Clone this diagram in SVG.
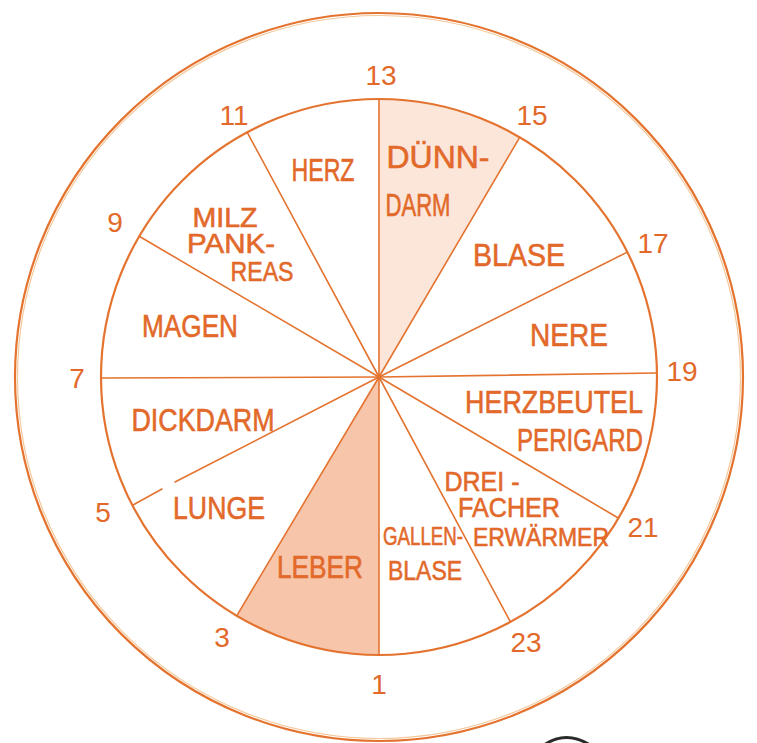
<svg xmlns="http://www.w3.org/2000/svg" width="757" height="743" viewBox="0 0 757 743">
<style>
.ln{fill:none;stroke:#e4732f;stroke-width:1.6;stroke-linecap:round}
.ring{fill:none;stroke:#e4732f;stroke-width:2.2}
.lbl{font-family:"Liberation Sans","DejaVu Sans",sans-serif;font-size:32px;fill:#e2692a;stroke:#e2692a;stroke-width:0.6;text-anchor:middle}
.sm{font-size:28px}
.xs{font-size:25px}
.num{font-family:"Liberation Sans","DejaVu Sans",sans-serif;font-size:28px;fill:#e2692a;text-anchor:middle}
</style>
<rect width="757" height="743" fill="#ffffff"/>
<g id="outer-ring">
<circle cx="379" cy="377" r="364" class="ring"/>
<circle cx="379" cy="377" r="361.5" fill="none" stroke="#f3c99c" stroke-width="1.2"/>
</g>
<g id="sector-duenndarm"><path d="M379,377 L379,99 A278,278 0 0 1 519.7,137.3 Z" fill="#fce6da"/></g>
<g id="sector-leber"><path d="M379,377 L379,655 A278,278 0 0 1 236.7,615.8 Z" fill="#f7c5a9"/></g>
<g id="inner-ring"><circle cx="379" cy="377" r="278" class="ring"/></g>
<g id="connectors">
<line class="ln" x1="379" y1="377" x2="379" y2="99"/>
<line class="ln" x1="379" y1="377" x2="519.7" y2="137.3"/>
<line class="ln" x1="379" y1="377" x2="627.3" y2="252.1"/>
<line class="ln" x1="379" y1="377" x2="657" y2="373"/>
<line class="ln" x1="379" y1="377" x2="618.6" y2="518.2"/>
<line class="ln" x1="379" y1="377" x2="510.4" y2="621.9"/>
<line class="ln" x1="379" y1="377" x2="379" y2="655"/>
<line class="ln" x1="379" y1="377" x2="236.7" y2="615.8"/>
<line class="ln" x1="379" y1="377" x2="175" y2="482"/>
<line class="ln" x1="162" y1="489" x2="133" y2="505"/>
<line class="ln" x1="379" y1="377" x2="101" y2="378"/>
<line class="ln" x1="379" y1="377" x2="139.2" y2="236.3"/>
<line class="ln" x1="379" y1="377" x2="247.2" y2="132.3"/>
</g>
<g id="numbers">
<text class="num" x="381" y="85">13</text>
<text class="num" x="532" y="125">15</text>
<text class="num" x="653" y="253">17</text>
<text class="num" x="682" y="381">19</text>
<text class="num" x="643" y="537">21</text>
<text class="num" x="526" y="652">23</text>
<text class="num" x="379" y="694">1</text>
<text class="num" x="222" y="647">3</text>
<text class="num" x="103" y="522">5</text>
<text class="num" x="77" y="388">7</text>
<text class="num" x="115" y="232">9</text>
<text class="num" x="234" y="125">11</text>
</g>
<g id="node-herz"><text class="lbl" x="323" y="181" textLength="63" lengthAdjust="spacingAndGlyphs">HERZ</text></g>
<g id="node-duenndarm">
<text class="lbl" x="438" y="168" textLength="103" lengthAdjust="spacingAndGlyphs">DÜNN-</text>
<text class="lbl" x="418" y="216" textLength="65" lengthAdjust="spacingAndGlyphs">DARM</text>
</g>
<g id="node-blase"><text class="lbl" x="519" y="266" textLength="92" lengthAdjust="spacingAndGlyphs">BLASE</text></g>
<g id="node-niere"><text class="lbl" x="569" y="346" textLength="78" lengthAdjust="spacingAndGlyphs">NERE</text></g>
<g id="node-herzbeutel">
<text class="lbl" x="554" y="413" textLength="178" lengthAdjust="spacingAndGlyphs">HERZBEUTEL</text>
<text class="lbl" x="580" y="451" textLength="126" lengthAdjust="spacingAndGlyphs">PERIGARD</text>
</g>
<g id="node-dreifacher">
<text class="lbl sm" x="482" y="491" textLength="75" lengthAdjust="spacingAndGlyphs">DREI -</text>
<text class="lbl sm" x="509" y="517" textLength="102" lengthAdjust="spacingAndGlyphs">FACHER</text>
<text class="lbl xs" x="541" y="546" textLength="136" lengthAdjust="spacingAndGlyphs">ERWÄRMER</text>
</g>
<g id="node-gallenblase">
<text class="lbl xs" x="423" y="545" textLength="80" lengthAdjust="spacingAndGlyphs">GALLEN-</text>
<text class="lbl sm" x="425" y="580" textLength="74" lengthAdjust="spacingAndGlyphs">BLASE</text>
</g>
<g id="node-leber"><text class="lbl" x="320" y="578" textLength="86" lengthAdjust="spacingAndGlyphs">LEBER</text></g>
<g id="node-lunge"><text class="lbl" x="219" y="519" textLength="92" lengthAdjust="spacingAndGlyphs">LUNGE</text></g>
<g id="node-dickdarm"><text class="lbl" x="203" y="431" textLength="143" lengthAdjust="spacingAndGlyphs">DICKDARM</text></g>
<g id="node-magen"><text class="lbl" x="190" y="337" textLength="96" lengthAdjust="spacingAndGlyphs">MAGEN</text></g>
<g id="node-milz">
<text class="lbl sm" x="225" y="227" textLength="65" lengthAdjust="spacingAndGlyphs">MILZ</text>
<text class="lbl sm" x="231" y="253" textLength="88" lengthAdjust="spacingAndGlyphs">PANK-</text>
<text class="lbl sm" x="262" y="281" textLength="63" lengthAdjust="spacingAndGlyphs">REAS</text>
</g>
<path d="M544,745 Q566,730 590,745" fill="none" stroke="#2a2a2a" stroke-width="3"/>
</svg>
